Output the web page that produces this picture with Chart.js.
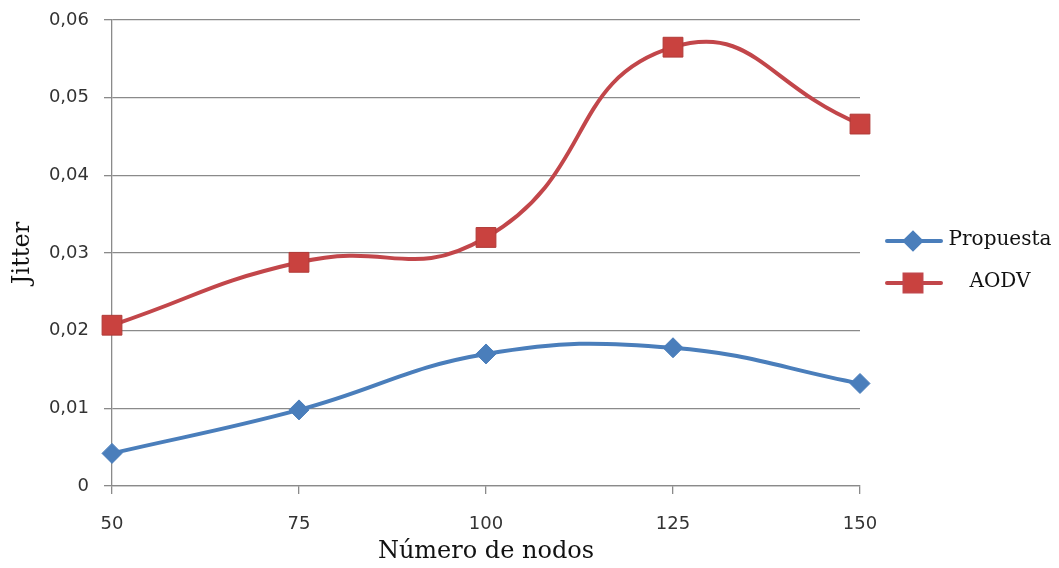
<!DOCTYPE html>
<html>
<head>
<meta charset="utf-8">
<title>Jitter vs número de nodos</title>
<script src="https://cdn.jsdelivr.net/npm/chart.js@4/dist/chart.umd.min.js"></script>
<style>
  html, body { margin: 0; padding: 0; background: #ffffff; }
  #wrap { width: 1059px; height: 568px; position: relative; }
</style>
</head>
<body>
<div id="wrap"><canvas id="c" width="1059" height="568"></canvas></div>
<script>
// Node counts on the x axis
const nodos = ['50', '75', '100', '125', '150'];
// Jitter for each routing scheme
const propuesta = [0.0042, 0.0098, 0.0170, 0.0178, 0.0132];
const aodv = [0.0207, 0.0288, 0.0320, 0.0565, 0.0466];
// Y-axis tick values
const yTicks = [0, 0.01, 0.02, 0.03, 0.04, 0.05, 0.06];

const BLUE = '#4a7ebb';
const RED = '#c2464a';

// Legend drawn as a short line with its marker, text centred to the right
const lineLegend = {
  id: 'lineLegend',
  afterDraw(chart) {
    const ctx = chart.ctx;
    const items = [
      { label: 'Propuesta', ds: chart.data.datasets[0], y: 241 },
      { label: 'AODV', ds: chart.data.datasets[1], y: 283 }
    ];
    ctx.save();
    items.forEach(it => {
      ctx.strokeStyle = it.ds.borderColor;
      ctx.lineWidth = 4;
      ctx.lineCap = 'round';
      ctx.beginPath();
      ctx.moveTo(887, it.y);
      ctx.lineTo(941, it.y);
      ctx.stroke();
      Chart.helpers.drawPoint(ctx, {
        pointStyle: it.ds.pointStyle,
        radius: it.ds.pointStyle === 'rect' ? 12 : 8,
        borderWidth: 1
      }, 913, it.y);
      ctx.fillStyle = it.ds.pointBackgroundColor;
      ctx.strokeStyle = it.ds.pointBorderColor;
      ctx.fill();
      ctx.fillStyle = '#111111';
      ctx.font = '20px "DejaVu Serif"';
      ctx.textAlign = 'center';
      ctx.textBaseline = 'middle';
      ctx.fillText(it.label, 1000, it.y - 1);
    });
    ctx.restore();
  }
};

new Chart(document.getElementById('c'), {
  type: 'line',
  data: {
    labels: nodos,
    datasets: [
      {
        label: 'Propuesta',
        data: propuesta,
        borderColor: BLUE,
        backgroundColor: BLUE,
        borderWidth: 4,
        tension: 0.42,
        pointStyle: 'rectRot',
        pointRadius: 10,
        pointBackgroundColor: BLUE,
        pointBorderColor: BLUE,
        pointBorderWidth: 1
      },
      {
        label: 'AODV',
        data: aodv,
        borderColor: RED,
        backgroundColor: RED,
        borderWidth: 4,
        tension: 0.5,
        pointStyle: 'rect',
        pointRadius: 14,
        pointBackgroundColor: '#c9423f',
        pointBorderColor: '#b03a37',
        pointBorderWidth: 1
      }
    ]
  },
  options: {
    responsive: false,
    animation: false,
    devicePixelRatio: 1,
    layout: { padding: { top: 20, right: 199, left: 0, bottom: 0 } },
    plugins: {
      legend: { display: false },
      tooltip: { enabled: false }
    },
    scales: {
      x: {
        type: 'category',
        offset: false,
        grid: {
          display: true,
          drawOnChartArea: false,
          drawTicks: true,
          tickLength: 8,
          color: '#8a8a8a',
          lineWidth: 1.3
        },
        border: { display: true, color: '#8a8a8a', width: 1.3 },
        ticks: {
          color: '#333333',
          font: { family: '"DejaVu Sans"', size: 18 },
          padding: 20,
          maxRotation: 0
        },
        title: {
          display: true,
          text: 'Número de nodos',
          color: '#111111',
          font: { family: '"DejaVu Serif"', size: 24 },
          padding: { top: 0, bottom: 2 }
        },
        afterFit(s) { s.height = 82; }
      },
      y: {
        min: 0,
        max: 0.06,
        afterBuildTicks(s) { s.ticks = yTicks.map(v => ({ value: v })); },
        grid: {
          color: '#8a8a8a',
          lineWidth: 1.3,
          drawTicks: true,
          tickLength: 8
        },
        border: { display: true, color: '#8a8a8a', width: 1.3 },
        ticks: {
          color: '#333333',
          font: { family: '"DejaVu Sans"', size: 18 },
          padding: 15,
          callback: v => (v === 0 ? '0' : v.toFixed(2).replace('.', ','))
        },
        title: {
          display: true,
          text: 'Jitter',
          color: '#111111',
          font: { family: '"DejaVu Serif"', size: 24 },
          padding: { top: 8, bottom: 0 }
        },
        afterFit(s) {
          s.width = 112;
          s.paddingTop = 0;
          s.paddingBottom = 0;
        }
      }
    }
  },
  plugins: [lineLegend]
});
</script>
</body>
</html>
